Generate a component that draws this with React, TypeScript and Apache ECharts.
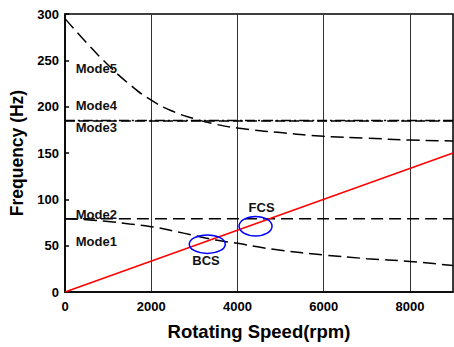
import React, { useEffect, useRef } from "react";
import * as echarts from "echarts";

const xTicks = [0, 2000, 4000, 6000, 8000];
const mode5 = [[0, 295], [500, 269], [1000, 245], [1500, 224], [2000, 207], [2500, 195], [3000, 187], [3500, 181], [4000, 177], [5000, 172], [6000, 168], [7000, 166], [8000, 164], [9000, 163]];
const mode4 = [[0, 185], [9000, 185]];
const mode3 = [[0, 184.5], [9000, 184.5]];
const mode2 = [[0, 79], [9000, 79]];
const mode1 = [[0, 79], [500, 78], [1000, 76], [1500, 73.5], [2000, 70.5], [2500, 66], [3000, 61], [3500, 56], [4000, 52.5], [4500, 48.5], [5000, 45], [6000, 40], [7000, 36], [8000, 33], [9000, 28.5]];
const excitation = [[0, 0], [9000, 150]];
const modeLabels = [[250, 241.5, "Mode5"], [250, 201.5, "Mode4"], [250, 178, "Mode3"], [250, 84, "Mode2"], [250, 55, "Mode1"]];
const pointLabels = [[3270, 33.5, "BCS"], [4560, 91.5, "FCS"]];
const ellipses = [[3300, 51.6, 18, 9.2], [4420, 70.9, 16.5, 9.7]];

export default function App() {
  const ref = useRef<HTMLDivElement>(null);
  useEffect(() => {
    const chart = echarts.init(ref.current!, null, { renderer: "svg" });
    const ff = "Arial, 'Liberation Sans', sans-serif";
    const font = "bold 13px Arial, 'Liberation Sans', sans-serif";
    const dashed = (data: number[][], dash: number[]) => ({
      type: "line",
      data,
      showSymbol: false,
      symbol: "none",
      smooth: true,
      lineStyle: { color: "#000", width: 1.5, type: dash },
      z: 3,
    });
    chart.setOption({
      animation: false,
      grid: { left: 65, right: 1, top: 14, bottom: 55, show: true, borderColor: "#000", borderWidth: 1.5 },
      xAxis: {
        type: "value",
        min: 0,
        max: 9000,
        interval: 2000,
        name: "Rotating Speed(rpm)",
        nameLocation: "middle",
        nameGap: 30,
        nameTextStyle: { fontFamily: ff, fontWeight: "bold", fontSize: 18.5, color: "#000" },
        axisLine: { lineStyle: { color: "#000", width: 1.5 } },
        axisTick: { show: false },
        axisLabel: {
          showMaxLabel: false,
          formatter: (v: number) => (xTicks.includes(v) ? String(v) : ""),
          fontFamily: ff,
          fontWeight: "bold",
          fontSize: 13,
          color: "#000",
          margin: 8,
        },
        splitLine: { show: true, lineStyle: { color: "#333", width: 1 } },
      },
      yAxis: {
        type: "value",
        min: 0,
        max: 300,
        interval: 50,
        name: "Frequency (Hz)",
        nameLocation: "middle",
        nameGap: 38,
        nameTextStyle: { fontFamily: ff, fontWeight: "bold", fontSize: 17.5, color: "#000" },
        axisLine: { show: true, lineStyle: { color: "#000", width: 1.5 } },
        axisTick: { show: true, inside: true, length: 4, lineStyle: { color: "#000", width: 1.5 } },
        axisLabel: { fontFamily: ff, fontWeight: "bold", fontSize: 13, color: "#000", margin: 6 },
        splitLine: { show: false },
      },
      series: [
        dashed(mode5, [13, 6]),
        dashed(mode3, [10, 4]),
        dashed(mode4, [10, 3, 2, 3]),
        dashed(mode2, [12, 6]),
        dashed(mode1, [13, 6]),
        {
          type: "line",
          data: excitation,
          showSymbol: false,
          symbol: "none",
          lineStyle: { color: "#ff0000", width: 1.5 },
          z: 4,
        },
        {
          type: "custom",
          data: ellipses,
          z: 5,
          renderItem: (params: any, api: any) => {
            const p = api.coord([api.value(0), api.value(1)]);
            return {
              type: "ellipse",
              shape: { cx: p[0], cy: p[1], rx: api.value(2), ry: api.value(3) },
              style: { fill: "none", stroke: "#0000ff", lineWidth: 1.5 },
            };
          },
        },
        {
          type: "custom",
          data: modeLabels,
          z: 6,
          renderItem: (params: any, api: any) => {
            const p = api.coord([api.value(0), api.value(1)]);
            return {
              type: "text",
              x: p[0],
              y: p[1],
              style: { text: modeLabels[params.dataIndex][2], font, fill: "#111", align: "left", verticalAlign: "middle" },
            };
          },
        },
        {
          type: "custom",
          data: pointLabels,
          z: 6,
          renderItem: (params: any, api: any) => {
            const p = api.coord([api.value(0), api.value(1)]);
            return {
              type: "text",
              x: p[0],
              y: p[1],
              style: { text: pointLabels[params.dataIndex][2], font, fill: "#111", align: "center", verticalAlign: "middle" },
            };
          },
        },
      ],
    });
    return () => chart.dispose();
  }, []);
  return <div ref={ref} style={{ width: 454, height: 347, position: "absolute", left: 0, top: 0 }} />;
}
